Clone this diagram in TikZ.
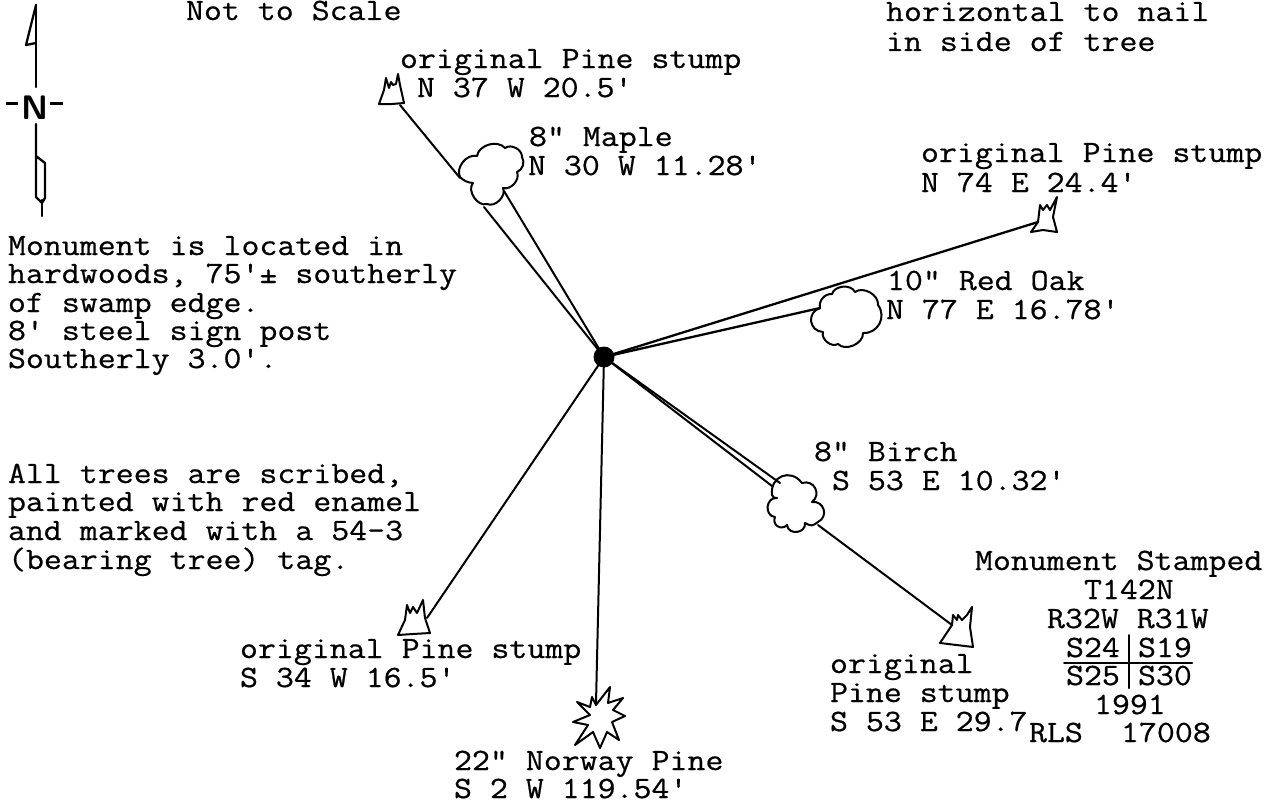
\documentclass[tikz,border=0pt]{standalone}
\usepackage{fontspec}
\setmonofont[FakeStretch=1.125,FakeBold=0.6]{Latin Modern Mono}
\begin{document}
\begin{tikzpicture}[x=1pt,y=-1pt,
  txt/.style={anchor=base west,inner sep=0pt,outer sep=0pt,font=\fontsize{31}{34}\ttfamily},
  ink/.style={line width=2.3pt,line join=round,line cap=round,black},
  thin ink/.style={line width=2pt,line join=round,line cap=round,black}]
\useasboundingbox (0,0) rectangle (1276,800);
\fill[white] (0,0) rectangle (1276,800);
% north arrow
\coordinate (nt) at (36,5); \coordinate (nb) at (36,87);
\draw[ink] (nt) -- (nb);
\draw[ink] (nt) -- (26,45) -- (36,43);
\node[font=\fontsize{34}{34}\sffamily\bfseries,inner sep=0pt] (northN) at (35,108) {N};
\coordinate (d1) at (6,103); \coordinate (d2) at (18,103); \coordinate (d3) at (50,103); \coordinate (d4) at (63,103);
\draw[line width=3pt] (d1) -- (d2);
\draw[line width=3pt] (d3) -- (d4);
\draw[ink] (36,124) -- (36,197) -- (42,203) -- (45,198) -- (45,163) -- (36,156);
\draw[ink] (42,200) -- (42,216);
% named points
\node[circle,fill=black,inner sep=0pt,minimum size=21pt] (mon) at (604,357) {};
\coordinate (s1) at (400,105); \coordinate (m1) at (460,178);
\coordinate (m2) at (484,207); \coordinate (m3) at (504,191);
\coordinate (s2) at (1038,222); \coordinate (o1) at (820,308);
\coordinate (b1) at (772,486); \coordinate (b2) at (780,483);
\coordinate (b3) at (818,525); \coordinate (s3) at (952,625);
\coordinate (s4) at (427,618); \coordinate (st) at (596,703);
% connectors
\draw[thin ink] (s1) -- (m1);
\draw[thin ink] (mon.center) -- (m2);
\draw[thin ink] (mon.center) -- (m3);
\draw[ink] (mon.center) -- (s2);
\draw[ink] (mon.center) -- (o1);
\draw[thin ink] (mon.center) -- (b1);
\draw[thin ink] (mon.center) -- (b2);
\draw[thin ink] (b3) -- (s3);
\draw[thin ink] (mon.center) -- (s4);
\draw[thin ink] (mon.center) -- (st);
% stumps
\draw[thin ink] (379,104) -- (384,90) -- (386,78) -- (389,88) -- (391,82) -- (393,85) -- (396,84) -- (398,74) -- (400,85) -- (404,103) -- (392,104) -- cycle;
\draw[thin ink] (1031,232) -- (1038,222) -- (1040,205) -- (1043,210) -- (1047,205) -- (1050,210) -- (1057,197) -- (1053,217) -- (1057,232) -- (1043,230) -- cycle;
\draw[thin ink] (940,643) -- (952,625) -- (953,615) -- (957,620) -- (958,615) -- (962,620) -- (967,615) -- (972,607) -- (970,627) -- (973,647) -- cycle;
\draw[thin ink] (398,635) -- (405,620) -- (407,605) -- (410,613) -- (413,607) -- (417,613) -- (423,600) -- (425,618) -- (430,633) -- (413,634) -- cycle;
% star
\draw[thin ink] (596,705) -- (610,687) -- (608,703) -- (623,698) -- (613,710) -- (625,716) -- (612,722) -- (619,740) -- (607,732) -- (600,748) -- (593,732) -- (575,745) -- (588,725) -- (573,722) -- (590,715) -- (577,702) -- (590,707) -- (592,697) -- cycle;
% clouds
\draw[thin ink] (460,177) to[bend left=65] (477,156) to[bend left=65] (505,148) to[bend left=65] (522,157) to[bend left=50] (517,172) to[bend left=65] (503,188) to[bend left=70] (487,204) to[bend left=75] (473,183) to[bend left=20] cycle;
\draw[thin ink] (820,308) to[bend left=55] (832,294) to[bend left=70] (855,292) to[bend left=65] (878,305) to[bend left=65,looseness=1.2] (863,333) to[bend left=70] (838,344) to[bend left=70] (823,332) to[bend left=80,looseness=1.5] cycle;
\draw[thin ink,looseness=1.5] (772,495) to[bend left=75] (802,483) to[bend left=80] (812,502) to[bend left=80] (818,522) to[bend left=30] (805,523) to[bend left=90] (787,525) to[bend left=80] (775,517) to[bend left=90] (777,498) to[bend left=30] cycle;
% text
\node[txt] (t1) at (186,20) {Not to Scale};
\node[txt] (t2) at (886,21) {horizontal to nail};
\node[txt] (t3) at (886,51) {in side of tree};
\node[txt] (t4) at (400,68) {original Pine stump};
\node[txt] (t5) at (417,97) {N 37 W 20.5'};
\node[txt] (t6) at (529,146) {8" Maple};
\node[txt] (t7) at (528,175) {N 30 W 11.28'};
\node[txt] (t8) at (921,162) {original Pine stump};
\node[txt] (t9) at (921,192) {N 74 E 24.4'};
\node[txt] (t10) at (887,290) {10" Red Oak};
\node[txt] (t11) at (886,319) {N 77 E 16.78'};
\node[txt] (t12) at (8,255) {Monument is located in};
\node[txt] (t13) at (8,283) {hardwoods, 75'\textpm{} southerly};
\node[txt] (t14) at (8,312) {of swamp edge.};
\node[txt] (t15) at (8,340) {8' steel sign post};
\node[txt] (t16) at (8,368) {Southerly 3.0'.};
\node[txt] (t17) at (8,483) {All trees are scribed,};
\node[txt] (t18) at (8,511) {painted with red enamel};
\node[txt] (t19) at (8,540) {and marked with a 54-3};
\node[txt] (t20) at (8,569) {(bearing tree) tag.};
\node[txt] (t21) at (814,461) {8" Birch};
\node[txt] (t22) at (832,490) {S 53 E 10.32'};
\node[txt] (t23) at (240,658) {original Pine stump};
\node[txt] (t24) at (240,687) {S 34 W 16.5'};
\node[txt] (t25) at (454,770) {22" Norway Pine};
\node[txt] (t26) at (454,798) {S 2 W 119.54'};
\node[txt] (t27) at (830,673) {original};
\node[txt] (t28) at (830,702) {Pine stump};
\node[txt] (t29) at (830,731) {S 53 E 29.7};
\node[txt] (t30) at (1029,742) {RLS};
\node[txt] (t30b) at (1121,742) {17008};
\node[txt] (t31) at (975,570) {Monument Stamped};
\node[txt] (t32) at (1084,599) {T142N};
\node[txt] (t33) at (1047,628) {R32W R31W};
\node[txt] (t34) at (1066,657) {S24};
\node[txt] (t35) at (1138,657) {S19};
\node[txt] (t36) at (1066,685) {S25};
\node[txt] (t37) at (1138,685) {S30};
\node[txt] (t38) at (1094,714) {1991};
\coordinate (h1) at (1064,663); \coordinate (h2) at (1192,663);
\coordinate (v1) at (1129,635); \coordinate (v2) at (1129,688);
\draw[thin ink] (h1) -- (h2);
\draw[thin ink] (v1) -- (v2);
\end{tikzpicture}
\end{document}
